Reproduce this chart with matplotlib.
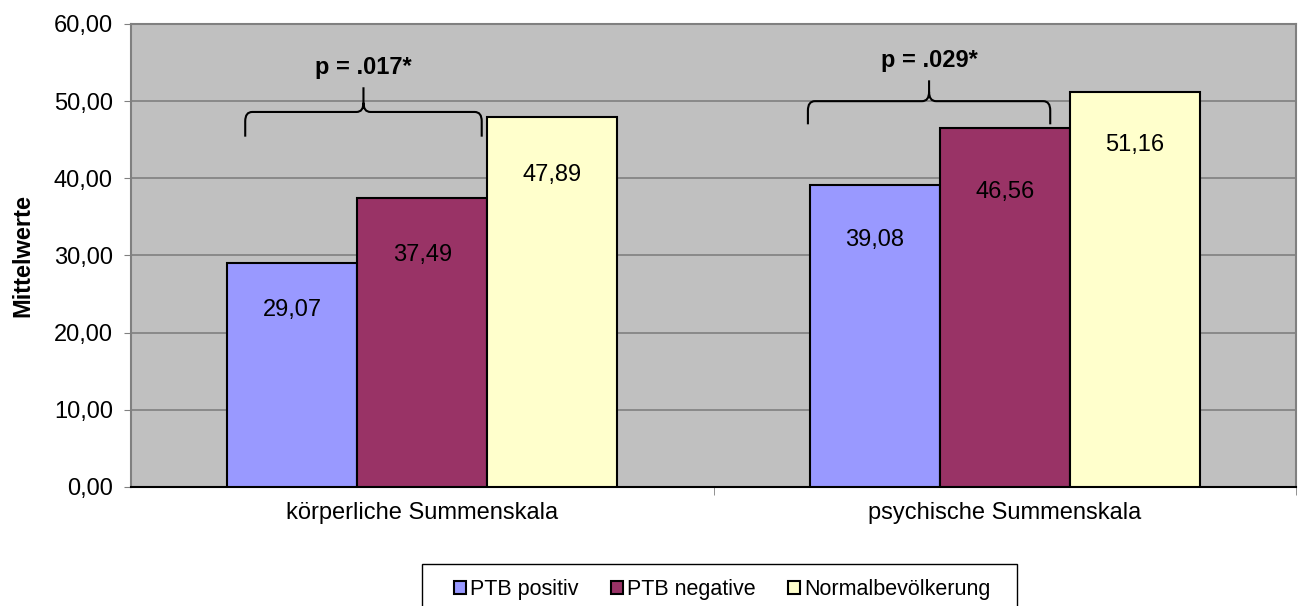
import matplotlib.pyplot as plt
from matplotlib.path import Path
from matplotlib.patches import PathPatch, Rectangle
import numpy as np

# data
categories = ["körperliche Summenskala", "psychische Summenskala"]
series = ["PTB positiv", "PTB negative", "Normalbevölkerung"]
ptb_pos = [29.07, 39.08]
ptb_neg = [37.49, 46.56]
normal = [47.89, 51.16]
p_labels = ["p = .017*", "p = .029*"]
yticks = [0, 10, 20, 30, 40, 50, 60]

colors = ["#9999FF", "#993366", "#FFFFCC"]
label_drop = [[47, 57, 58], [55, 64, 53]]  # px below bar top

plt.rcParams['font.family'] = ['Liberation Sans', 'DejaVu Sans']
fs = 17

fig = plt.figure(figsize=(13.04, 6.06), dpi=100)
ax = fig.add_axes([0.1005, 0.1964, 0.8934, 0.764])
ax.set_facecolor("#C0C0C0")

x = np.arange(len(categories))
w = 0.223
vals = [ptb_pos, ptb_neg, normal]
for i, (name, v) in enumerate(zip(series, vals)):
    pos = x + (i - 1) * w
    bars = ax.bar(pos, v, w, color=colors[i], edgecolor="black", linewidth=1.5,
                  label=name, zorder=3)
    for j, b in enumerate(bars):
        ax.annotate(f"{v[j]:.2f}".replace(".", ","), (b.get_x() + w / 2, v[j]),
                    xytext=(0, -label_drop[j][i] * 0.72), textcoords="offset points",
                    ha="center", va="center", fontsize=fs, zorder=4)

ax.set_xlim(-0.5, 1.5)
ax.set_ylim(0, 60)
ax.set_yticks(yticks)
ax.set_yticklabels([f"{t:.2f}".replace(".", ",") for t in yticks], fontsize=fs)
ax.yaxis.grid(True, color="#808080", linewidth=1.2, zorder=0)
ax.set_axisbelow(True)
ax.tick_params(axis="y", length=5, color="#808080", pad=8)
ax.set_xticks(x)
ax.set_xticklabels(categories, fontsize=fs)
ax.tick_params(axis="x", length=0, pad=11)
ax.set_xticks([0.5, 1.5], minor=True)
ax.tick_params(axis="x", which="minor", length=6, color="#808080")
for s in ["top", "right", "left"]:
    ax.spines[s].set_color("#808080")
    ax.spines[s].set_linewidth(1.5)
ax.spines["bottom"].set_color("black")
ax.spines["bottom"].set_linewidth(1.5)
ax.set_ylabel("Mittelwerte", fontsize=fs, fontweight="bold", labelpad=14)


def brace(x0, x1, yb, yh, yt):
    xm = (x0 + x1) / 2
    rx, ry = 0.012, 1.2
    verts = [(x0, yb), (x0, yh - ry), (x0, yh), (x0 + rx, yh), (xm - rx, yh),
             (xm, yh), (xm, yh + ry), (xm, yt),
             (xm, yh + ry), (xm, yh), (xm + rx, yh), (x1 - rx, yh),
             (x1, yh), (x1, yh - ry), (x1, yb)]
    codes = [Path.MOVETO, Path.LINETO, Path.CURVE3, Path.CURVE3, Path.LINETO,
             Path.CURVE3, Path.CURVE3, Path.LINETO,
             Path.MOVETO, Path.CURVE3, Path.CURVE3, Path.LINETO,
             Path.CURVE3, Path.CURVE3, Path.LINETO]
    ax.add_patch(PathPatch(Path(verts, codes), fill=False, lw=1.5,
                           edgecolor="black", zorder=5, clip_on=False))
    return xm


braces = [(-0.304, 0.102, 45.4, 48.6, 51.8, 54.4), (0.662, 1.078, 47.0, 50.0, 52.7, 55.3)]
for (x0, x1, yb, yh, yt, ytxt), lab in zip(braces, p_labels):
    xm = brace(x0, x1, yb, yh, yt)
    ax.text(xm, ytxt, lab, ha="center", va="center", fontsize=fs,
            fontweight="bold", zorder=6)

# legend frame drawn separately (reference box is wide and cut at bottom)
fig.patches.append(Rectangle((422 / 1304, -0.01), 595 / 1304, 48 / 606,
                             transform=fig.transFigure, fill=False,
                             edgecolor="black", linewidth=1.0))
leg = fig.legend(loc="center", bbox_to_anchor=(0.554, 16 / 606), ncol=3,
                 fontsize=15.5, frameon=False,
                 handlelength=0.55, handleheight=0.55, handletextpad=0.2,
                 columnspacing=1.5, borderpad=0, borderaxespad=0)
for h in leg.legend_handles:
    h.set_linewidth(1.5)

fig.savefig("out.png", dpi=100)
